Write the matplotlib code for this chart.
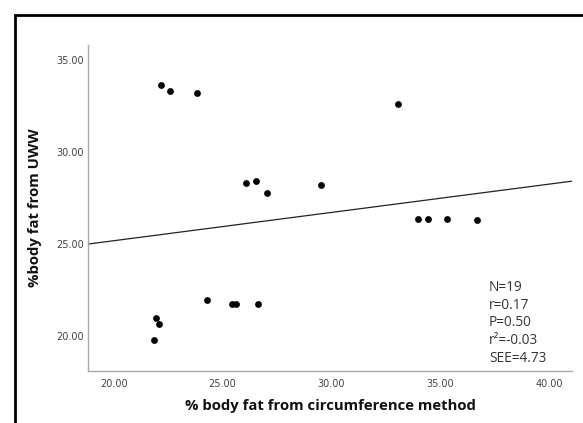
import matplotlib
matplotlib.use("Agg")
import matplotlib.pyplot as plt
from matplotlib.patches import Rectangle

# Data
circ_fat = [22.17, 22.59, 23.82, 26.06, 26.52, 27.03, 33.04, 29.52,
            33.98, 34.41, 35.28, 36.69, 21.94, 22.10, 21.86, 24.30,
            25.44, 25.61, 26.63]
uww_fat = [33.62, 33.33, 33.19, 28.30, 28.45, 27.80, 32.60, 28.20,
           26.38, 26.38, 26.36, 26.33, 20.96, 20.68, 19.77, 21.94,
           21.72, 21.72, 21.72]
fit_slope = 0.154
fit_intercept = 22.10
x_ticks = [20, 25, 30, 35, 40]
y_ticks = [20, 25, 30, 35]
stats_lines = ["N=19", "r=0.17", "P=0.50", "r\u00b2=-0.03", "SEE=4.73"]

W, H = 583, 423
fig = plt.figure(figsize=(W / 100, H / 100), dpi=100)
fig.patch.set_facecolor("white")

# outer black frame (extends past right/bottom edges)
fig.patches.append(Rectangle((15 / W, -0.1), 1.2, 1 - 15 / H + 0.1,
                             transform=fig.transFigure, fill=False,
                             edgecolor="black", linewidth=2.0))

ax = fig.add_axes([88.3 / W, 1 - 371 / H, (571.7 - 88.3) / W, (371 - 45) / H])
xlim = (18.84, 41.02)
ax.set_xlim(*xlim)
ax.set_ylim(18.1, 35.82)

ax.scatter(circ_fat, uww_fat, s=24, color="black", zorder=3, linewidths=0)
ax.plot(list(xlim), [fit_intercept + fit_slope * xlim[0],
                     fit_intercept + fit_slope * xlim[1]],
        color="#222222", linewidth=0.9, zorder=2)

for s in ["top", "right"]:
    ax.spines[s].set_visible(False)
for s in ["left", "bottom"]:
    ax.spines[s].set_color("#aaaaaa")
    ax.spines[s].set_linewidth(1.0)

ax.set_xticks(x_ticks)
ax.set_yticks(y_ticks)
ax.set_xticklabels([f"{v:.2f}" for v in x_ticks])
ax.set_yticklabels([f"{v:.2f}" for v in y_ticks])
ax.tick_params(axis="both", length=0, labelsize=7, labelcolor="#444444")
ax.tick_params(axis="x", pad=6)
ax.tick_params(axis="y", pad=3)

ax.set_xlabel("% body fat from circumference method", fontfamily="Open Sans",
              fontweight="bold", fontsize=10.7, color="#111111", labelpad=7)
ax.set_ylabel("%body fat from UWW", fontfamily="Open Sans",
              fontweight="bold", fontsize=10.7, color="#111111", labelpad=10)

ax.text((489 - 88.3) / (571.7 - 88.3), (371 - 280) / (371 - 45),
        "\n".join(stats_lines), transform=ax.transAxes, ha="left", va="top",
        fontfamily="Open Sans", fontsize=9.8, color="#333333", linespacing=1.24)

fig.savefig("out.png", dpi=100, facecolor="white")
